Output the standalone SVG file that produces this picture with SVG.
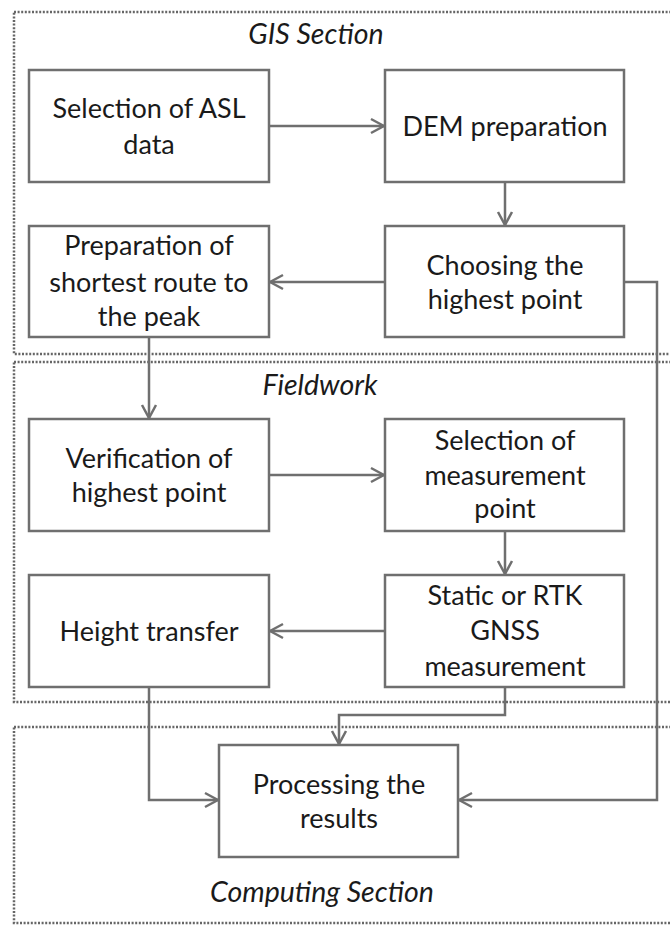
<svg xmlns="http://www.w3.org/2000/svg" width="670" height="925" viewBox="0 0 670 925">
<style>
.sec{fill:none;stroke:#666;stroke-width:2.5;stroke-dasharray:2 1.6}
.box{fill:#fff;stroke:#6f6f6f;stroke-width:2.5}
.t{font-family:Lato,"Open Sans",sans-serif;font-size:27px;fill:#1a1a1a;text-anchor:middle}
.st{font-family:Lato,"Open Sans",sans-serif;font-size:28.5px;font-style:italic;fill:#1a1a1a;text-anchor:middle}
.c{fill:none;stroke:#6f6f6f;stroke-width:2.5;marker-end:url(#arr)}
</style>
<defs>
<marker id="arr" markerUnits="userSpaceOnUse" markerWidth="18" markerHeight="18" viewBox="0 0 18 18" refX="16" refY="9" orient="auto">
<path d="M3,2 L16,9 L3,16" fill="none" stroke="#6f6f6f" stroke-width="2.5"/>
</marker>
</defs>
<rect width="670" height="925" fill="#fff"/>
<g id="sections">
<rect class="sec" x="14" y="12" width="680" height="342"/>
<rect class="sec" x="14" y="362" width="680" height="340"/>
<rect class="sec" x="14" y="727" width="680" height="196"/>
<text class="st" x="316" y="44">GIS Section</text>
<text class="st" x="320" y="395">Fieldwork</text>
<text class="st" x="322" y="902">Computing Section</text>
</g>
<g id="connectors">
<path class="c" d="M269,126 H384"/>
<path class="c" d="M505,182 V225"/>
<path class="c" d="M385,282 H270"/>
<path class="c" d="M149,337 V418"/>
<path class="c" d="M269,475 H384"/>
<path class="c" d="M505,531 V574"/>
<path class="c" d="M385,631 H270"/>
<path class="c" d="M505,687 V715 H339 V744"/>
<path class="c" d="M149,687 V800 H218"/>
<path class="c" d="M624,282 H657 V800 H459"/>
</g>
<g id="n1"><rect class="box" x="29" y="70" width="240" height="112"/>
<text class="t" x="149" y="118">Selection of ASL</text><text class="t" x="149" y="154">data</text></g>
<g id="n2"><rect class="box" x="385" y="70" width="239" height="112"/>
<text class="t" x="505" y="136">DEM preparation</text></g>
<g id="n3"><rect class="box" x="385" y="226" width="239" height="111"/>
<text class="t" x="505" y="275">Choosing the</text><text class="t" x="505" y="309">highest point</text></g>
<g id="n4"><rect class="box" x="29" y="226" width="240" height="111"/>
<text class="t" x="149" y="255">Preparation of</text><text class="t" x="149" y="292">shortest route to</text><text class="t" x="149" y="326">the peak</text></g>
<g id="n5"><rect class="box" x="29" y="419" width="240" height="112"/>
<text class="t" x="149" y="468">Verification of</text><text class="t" x="149" y="502">highest point</text></g>
<g id="n6"><rect class="box" x="385" y="419" width="239" height="112"/>
<text class="t" x="505" y="450">Selection of</text><text class="t" x="505" y="485">measurement</text><text class="t" x="505" y="518">point</text></g>
<g id="n7"><rect class="box" x="385" y="575" width="239" height="112"/>
<text class="t" x="505" y="605">Static or RTK</text><text class="t" x="505" y="640">GNSS</text><text class="t" x="505" y="676">measurement</text></g>
<g id="n8"><rect class="box" x="29" y="575" width="240" height="112"/>
<text class="t" x="149" y="641">Height transfer</text></g>
<g id="n9"><rect class="box" x="219" y="745" width="239" height="112"/>
<text class="t" x="339" y="794">Processing the</text><text class="t" x="339" y="828">results</text></g>
</svg>
